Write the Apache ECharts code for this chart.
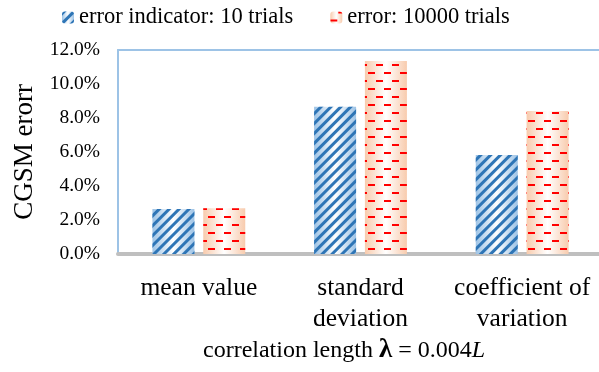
<!DOCTYPE html>
<html>
<head>
<meta charset="utf-8">
<script src="https://cdn.jsdelivr.net/npm/echarts@6/dist/echarts.min.js"></script>
<style>
  html, body { margin: 0; padding: 0; background: #fff; }
  #chart { width: 599px; height: 372px; }
</style>
</head>
<body>
<div id="chart"></div>
<script>
// Statistic groups along the x axis
const categories = ['mean value', 'standard\ndeviation', 'coefficient of\nvariation'];
// Series names
const seriesNames = ['error indicator: 10 trials', 'error: 10000 trials'];
// CGSM error in percent
const indicator10 = [2.65, 8.66, 5.82];
const error10000 = [2.69, 11.35, 8.41];
// Y axis range / step (percent)
const yMin = 0, yMax = 12, yStep = 2;

const FONT = 'Liberation Serif';
const FRAME = '#9dc3e6';

// Bar fill: coloured edges fading to white in the middle
function edgeGradient(edge) {
  return {
    type: 'linear', x: 0, y: 0, x2: 1, y2: 0,
    colorStops: [
      { offset: 0, color: edge },
      { offset: 0.5, color: '#ffffff' },
      { offset: 1, color: edge }
    ]
  };
}

const chart = echarts.init(document.getElementById('chart'), null, { renderer: 'canvas' });

chart.setOption({
  animation: false,
  textStyle: { fontFamily: FONT, color: '#000' },
  title: {
    text: '{n|correlation length }{b|λ}{n| = 0.004}{i|L}',
    left: 203,
    top: 337,
    padding: 0,
    textStyle: {
      fontWeight: 'normal',
      rich: {
        n: { fontFamily: FONT, fontSize: 24, fontWeight: 'normal', color: '#000' },
        b: { fontFamily: FONT, fontSize: 27, fontWeight: 'bold', color: '#000' },
        i: { fontFamily: FONT, fontSize: 24, fontWeight: 'normal', fontStyle: 'italic', color: '#000' }
      }
    }
  },
  legend: {
    top: 6,
    left: 62,
    padding: 0,
    itemWidth: 12,
    itemHeight: 12,
    itemGap: 37,
    textStyle: { fontFamily: FONT, fontSize: 22.5, color: '#000' },
    data: seriesNames
  },
  grid: {
    left: 118,
    top: 50,
    right: -4,
    bottom: 118,
    show: false,
    containLabel: false,
    outerBoundsMode: 'none'
  },
  xAxis: [
    {
      type: 'category',
      data: categories,
      axisLine: { show: true, lineStyle: { color: '#bfbfbf', width: 4 } },
      axisTick: { show: false },
      axisLabel: {
        interval: 0,
        hideOverlap: false,
        margin: 19,
        fontFamily: FONT,
        fontSize: 25.5,
        lineHeight: 31,
        color: '#000'
      }
    },
    {
      // top edge of the plot frame
      type: 'category',
      position: 'top',
      data: categories,
      axisLine: { show: true, lineStyle: { color: FRAME, width: 2 } },
      axisTick: { show: false },
      axisLabel: { show: false }
    }
  ],
  yAxis: {
    type: 'value',
    min: yMin,
    max: yMax,
    interval: yStep,
    axisLine: { show: true, lineStyle: { color: FRAME, width: 2 } },
    axisTick: { show: false },
    splitLine: { show: false },
    axisLabel: {
      margin: 18,
      fontFamily: FONT,
      fontSize: 19.5,
      color: '#000',
      formatter: v => v.toFixed(1) + '%'
    },
    name: 'CGSM erorr',
    nameLocation: 'middle',
    nameRotate: 90,
    nameGap: 77,
    nameTextStyle: { fontFamily: FONT, fontSize: 27, color: '#000' }
  },
  series: [
    {
      name: seriesNames[0],
      type: 'bar',
      data: indicator10,
      barWidth: 42,
      barGap: '21%',
      itemStyle: {
        color: edgeGradient('#9dc3e6'),
        decal: {
          symbol: 'rect', symbolSize: 1, symbolKeepAspect: false,
          dashArrayX: [1, 0], dashArrayY: [3, 4], rotation: -Math.PI / 4, color: '#2e75b6'
        }
      }
    },
    {
      name: seriesNames[1],
      type: 'bar',
      data: error10000,
      barWidth: 42,
      itemStyle: {
        color: edgeGradient('#f8cbad'),
        decal: {
          symbol: 'rect', symbolSize: 1, symbolKeepAspect: false,
          dashArrayX: [[7, 9], [0, 8, 7, 1]], dashArrayY: [2, 6], rotation: 0, color: '#ff0000'
        }
      }
    }
  ]
});
</script>
</body>
</html>
